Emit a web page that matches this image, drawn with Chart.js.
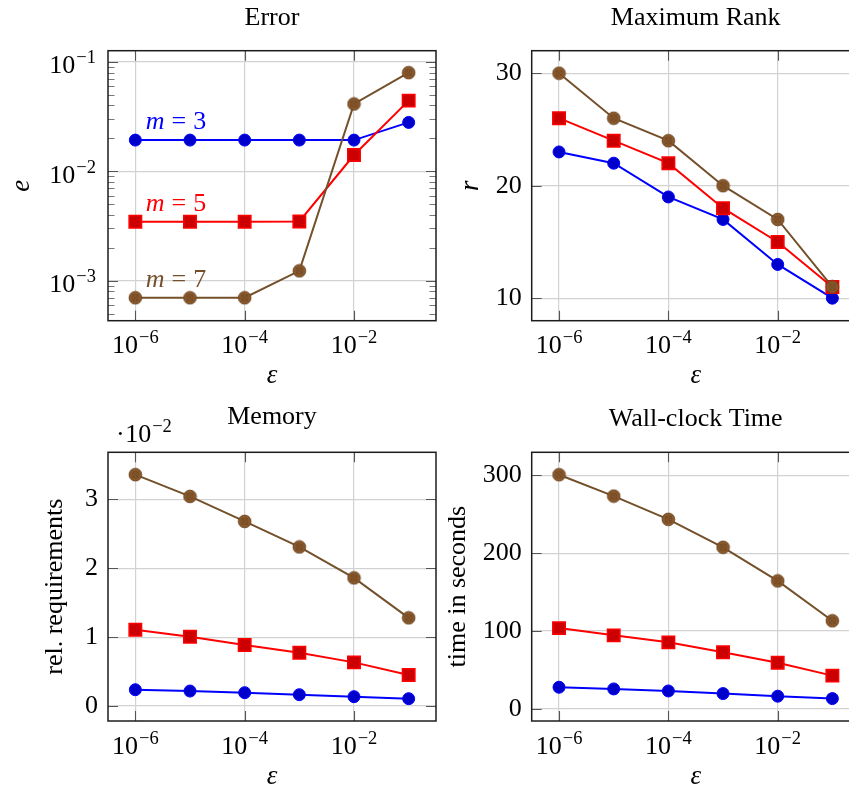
<!DOCTYPE html>
<html lang="en">
<head>
    <meta charset="UTF-8">
    <title>Error, Rank, Memory and Time over epsilon</title>
    <script src="https://cdn.jsdelivr.net/npm/chart.js"></script>
    <style>
        html, body {
            margin: 0;
            padding: 0;
            background: #fff;
            overflow: hidden;
        }
        body {
            position: relative;
            width: 849px;
            height: 791px;
        }
        canvas {
            position: absolute;
            left: 0;
            top: 0;
        }
    </style>
</head>
<body>
    <canvas id="errorChart" width="870" height="791"></canvas>
    <canvas id="rankChart" width="870" height="791"></canvas>
    <canvas id="memoryChart" width="870" height="791"></canvas>
    <canvas id="timeChart" width="870" height="791"></canvas>

    <script>
        // tolerance values on the x axis
        const eps = [1e-6, 1e-5, 1e-4, 1e-3, 1e-2, 1e-1];
        const epsTicks = [1e-6, 1e-4, 1e-2];

        // Error e
        const errorM3 = [0.0193, 0.0193, 0.0193, 0.0193, 0.0193, 0.028];
        const errorM5 = [0.00346, 0.00346, 0.00346, 0.00348, 0.0141, 0.0443];
        const errorM7 = [0.000698, 0.000698, 0.000698, 0.00123, 0.0413, 0.0798];
        const errorTicks = [1e-3, 1e-2, 1e-1];

        // Maximum rank r
        const rankM3 = [23, 22, 19, 17, 13, 10];
        const rankM5 = [26, 24, 22, 18, 15, 11];
        const rankM7 = [30, 26, 24, 20, 17, 11];
        const rankTicks = [10, 20, 30];

        // Memory, relative requirements
        const memoryM3 = [0.00236, 0.00217, 0.00193, 0.00164, 0.00135, 0.00106];
        const memoryM5 = [0.01106, 0.01004, 0.00884, 0.00773, 0.00633, 0.00449];
        const memoryM7 = [0.03358, 0.03043, 0.0268, 0.02309, 0.01859, 0.0128];
        const memoryTicks = [0, 0.01, 0.02, 0.03];

        // Wall-clock time in seconds
        const timeM3 = [27.8, 25.6, 23.0, 19.6, 16.3, 13.2];
        const timeM5 = [103.8, 94.5, 85.5, 72.7, 59.4, 42.7];
        const timeM7 = [301, 273.5, 243.6, 207.7, 164.5, 113.2];
        const timeTicks = [0, 100, 200, 300];

        const W = 870, H = 791;
        const SERIF = '"Liberation Serif", "Times New Roman", serif';
        const BLUE = '#0000ff', RED = '#ff0000', BROWN = '#74502b';
        const GRID = '#d2d2d2';

        function otimesMark() {
            const c = document.createElement('canvas');
            c.width = 15; c.height = 15;
            const g = c.getContext('2d');
            g.beginPath();
            g.arc(7.5, 7.5, 6.3, 0, 2 * Math.PI);
            g.fillStyle = '#8b5a2c';
            g.fill();
            g.lineWidth = 1;
            g.strokeStyle = '#6b4421';
            g.stroke();
            const d = 3.2;
            g.beginPath();
            g.moveTo(7.5 - d, 7.5 - d); g.lineTo(7.5 + d, 7.5 + d);
            g.moveTo(7.5 + d, 7.5 - d); g.lineTo(7.5 - d, 7.5 + d);
            g.lineWidth = 0.9;
            g.strokeStyle = '#6a4423';
            g.stroke();
            g.beginPath();
            g.arc(7.5, 7.5, 3.2, 0, 2 * Math.PI);
            g.lineWidth = 0.7;
            g.stroke();
            return c;
        }
        const brownMark = otimesMark();

        function series(label, ys, kind) {
            const ds = {
                label: label,
                data: eps.map((x, i) => ({ x: x, y: ys[i] })),
                borderWidth: 2,
                fill: false,
                tension: 0
            };
            if (kind === 'blue') {
                Object.assign(ds, { borderColor: BLUE, pointBackgroundColor: '#0000cc', pointBorderColor: BLUE,
                    pointStyle: 'circle', pointRadius: 6, pointBorderWidth: 1, order: 3 });
            } else if (kind === 'red') {
                Object.assign(ds, { borderColor: RED, pointBackgroundColor: '#cc0000', pointBorderColor: RED,
                    pointStyle: 'rect', pointRadius: 8.8, pointBorderWidth: 1.5, order: 2 });
            } else {
                Object.assign(ds, { borderColor: BROWN, pointStyle: brownMark, pointRadius: 7.5, order: 1 });
            }
            return ds;
        }

        function drawPow(ctx, x, y, exp, align) {
            const base = '10', sup = '\u2212' + Math.abs(exp);
            ctx.font = '26px ' + SERIF;
            const wb = ctx.measureText(base).width;
            ctx.font = '18.5px ' + SERIF;
            const we = ctx.measureText(sup).width;
            let x0 = x - (wb + we + 1) / 2;
            if (align === 'right') x0 = x - wb - we - 1;
            if (align === 'left') x0 = x;
            ctx.textAlign = 'left';
            ctx.textBaseline = 'alphabetic';
            ctx.font = '26px ' + SERIF;
            ctx.fillText(base, x0, y);
            ctx.font = '18.5px ' + SERIF;
            ctx.fillText(sup, x0 + wb + 1, y - 10);
        }

        function mLabel(ctx, x, y, n, color) {
            ctx.fillStyle = color;
            ctx.textAlign = 'left';
            ctx.textBaseline = 'alphabetic';
            ctx.font = 'italic 26px ' + SERIF;
            ctx.fillText('m', x, y);
            let cx = x + ctx.measureText('m').width + 7;
            ctx.font = '26px ' + SERIF;
            ctx.fillText('=', cx, y);
            cx += ctx.measureText('=').width + 7;
            ctx.fillText(String(n), cx, y);
        }

        // frame, inner ticks, log labels, titles
        function decor(cfg) {
            return {
                id: 'decor',
                beforeDatasetsDraw(chart) {
                    const ctx = chart.ctx, a = chart.chartArea;
                    const xs = chart.scales.x, ys = chart.scales.y;
                    ctx.save();
                    ctx.strokeStyle = '#555';
                    ctx.lineWidth = 1.1;
                    ctx.beginPath();
                    epsTicks.forEach(v => {
                        const px = Math.round(xs.getPixelForValue(v)) + 0.5;
                        ctx.moveTo(px, a.bottom); ctx.lineTo(px, a.bottom - 10);
                        ctx.moveTo(px, a.top); ctx.lineTo(px, a.top + 10);
                    });
                    cfg.yTicks.forEach(v => {
                        const py = Math.round(ys.getPixelForValue(v)) + 0.5;
                        ctx.moveTo(a.left, py); ctx.lineTo(a.left + 10, py);
                        ctx.moveTo(a.right, py); ctx.lineTo(a.right - 10, py);
                    });
                    ctx.stroke();
                    if (cfg.logY) {
                        ctx.strokeStyle = '#777';
                        ctx.beginPath();
                        for (let k = -4; k <= -1; k++) {
                            for (let m = 2; m <= 9; m++) {
                                const v = m * Math.pow(10, k);
                                if (v < ys.min || v > ys.max) continue;
                                const py = Math.round(ys.getPixelForValue(v)) + 0.5;
                                ctx.moveTo(a.left, py); ctx.lineTo(a.left + 6.5, py);
                                ctx.moveTo(a.right, py); ctx.lineTo(a.right - 6.5, py);
                            }
                        }
                        ctx.stroke();
                    }
                    ctx.strokeStyle = '#1c1c1c';
                    ctx.lineWidth = 1.5;
                    ctx.strokeRect(a.left, a.top, a.right - a.left, a.bottom - a.top);
                    ctx.restore();
                },
                afterDraw(chart) {
                    const ctx = chart.ctx, a = chart.chartArea;
                    const xs = chart.scales.x, ys = chart.scales.y;
                    const cx = (a.left + a.right) / 2;
                    ctx.save();
                    ctx.fillStyle = '#000';
                    epsTicks.forEach(v => drawPow(ctx, xs.getPixelForValue(v), a.bottom + 32.5, Math.round(Math.log10(v)), 'center'));
                    if (cfg.logY) {
                        cfg.yTicks.forEach(v => drawPow(ctx, a.left - 12, ys.getPixelForValue(v) + 11.3, Math.round(Math.log10(v)), 'right'));
                    }
                    // title
                    ctx.fillStyle = '#000';
                    ctx.font = '26px ' + SERIF;
                    ctx.textAlign = 'center';
                    ctx.textBaseline = 'alphabetic';
                    ctx.fillText(cfg.title, cx, cfg.titleY);
                    // x label
                    ctx.font = 'italic 27px ' + SERIF;
                    ctx.fillText('\u03b5', cx, a.bottom + 62.5);
                    // y label
                    ctx.save();
                    ctx.translate(cfg.yLabelX, (a.top + a.bottom) / 2);
                    ctx.rotate(-Math.PI / 2);
                    ctx.font = (cfg.yLabelItalic ? 'italic 27px ' : '26px ') + SERIF;
                    ctx.fillText(cfg.yLabel, 0, 0);
                    ctx.restore();
                    if (cfg.extra) cfg.extra(chart, ctx);
                    ctx.restore();
                }
            };
        }

        function makeChart(id, box, datasets, yScale, cfg) {
            const ctx = document.getElementById(id).getContext('2d');
            yScale.afterFit = s => { s.width = box.L; };
            yScale.afterBuildTicks = s => { s.ticks = cfg.yTicks.map(v => ({ value: v })); };
            yScale.grid = { color: GRID, lineWidth: 1.2, drawTicks: false };
            yScale.border = { display: false };
            return new Chart(ctx, {
                type: 'line',
                data: { datasets: datasets },
                options: {
                    responsive: false,
                    animation: false,
                    devicePixelRatio: 1,
                    layout: { padding: { left: 0, top: box.T, right: W - box.R, bottom: 0 } },
                    plugins: { legend: { display: false }, tooltip: { enabled: false }, title: { display: false } },
                    scales: {
                        x: {
                            type: 'logarithmic',
                            min: Math.pow(10, -6.5),
                            max: Math.pow(10, -0.5),
                            afterFit: s => { s.height = H - box.B; },
                            afterBuildTicks: s => { s.ticks = epsTicks.map(v => ({ value: v })); },
                            ticks: { display: false },
                            grid: { color: GRID, lineWidth: 1.2, drawTicks: false },
                            border: { display: false }
                        },
                        y: yScale
                    }
                },
                plugins: [decor(cfg)]
            });
        }

        const linTicks = {
            color: '#000',
            padding: 10,
            font: { family: SERIF, size: 26 }
        };

        makeChart('errorChart', { L: 108, T: 50.7, R: 436, B: 320.7 },
            [series('m = 3', errorM3, 'blue'), series('m = 5', errorM5, 'red'), series('m = 7', errorM7, 'brown')],
            { type: 'logarithmic', min: Math.pow(10, -3.366), max: Math.pow(10, -0.897), ticks: { display: false } },
            {
                title: 'Error', titleY: 25, yLabel: 'e', yLabelItalic: true, yLabelX: 28.5,
                yTicks: errorTicks, logY: true,
                extra(chart, ctx) {
                    const xs = chart.scales.x, ys = chart.scales.y;
                    const x0 = xs.getPixelForValue(eps[0]) + 10.4;
                    mLabel(ctx, x0, ys.getPixelForValue(errorM3[0]) - 10.7, 3, BLUE);
                    mLabel(ctx, x0, ys.getPixelForValue(errorM5[0]) - 11, 5, RED);
                    mLabel(ctx, x0, ys.getPixelForValue(errorM7[0]) - 10.4, 7, BROWN);
                }
            });

        makeChart('rankChart', { L: 531.7, T: 50.7, R: 859.7, B: 320.7 },
            [series('m = 3', rankM3, 'blue'), series('m = 5', rankM5, 'red'), series('m = 7', rankM7, 'brown')],
            { type: 'linear', min: 8, max: 32, ticks: linTicks },
            { title: 'Maximum Rank', titleY: 25, yLabel: 'r', yLabelItalic: true, yLabelX: 478, yTicks: rankTicks });

        makeChart('memoryChart', { L: 108, T: 452.3, R: 436, B: 721 },
            [series('m = 3', memoryM3, 'blue'), series('m = 5', memoryM5, 'red'), series('m = 7', memoryM7, 'brown')],
            {
                type: 'linear', min: -0.00218, max: 0.03683,
                ticks: Object.assign({}, linTicks, { callback: v => String(Math.round(v * 100)) })
            },
            {
                title: 'Memory', titleY: 424, yLabel: 'rel. requirements', yLabelX: 62, yTicks: memoryTicks,
                extra(chart, ctx) {
                    ctx.fillStyle = '#000';
                    ctx.textAlign = 'left';
                    ctx.textBaseline = 'alphabetic';
                    ctx.font = '26px ' + SERIF;
                    const x = 116, y = 441.7;
                    ctx.fillText('\u00b7', x, y);
                    drawPow(ctx, x + ctx.measureText('\u00b7').width + 0.5, y, -2, 'left');
                }
            });

        makeChart('timeChart', { L: 531.7, T: 452.3, R: 859.7, B: 721 },
            [series('m = 3', timeM3, 'blue'), series('m = 5', timeM5, 'red'), series('m = 7', timeM7, 'brown')],
            { type: 'linear', min: -15.6, max: 329.8, ticks: linTicks },
            { title: 'Wall-clock Time', titleY: 426, yLabel: 'time in seconds', yLabelX: 465, yTicks: timeTicks });
    </script>
</body>
</html>
